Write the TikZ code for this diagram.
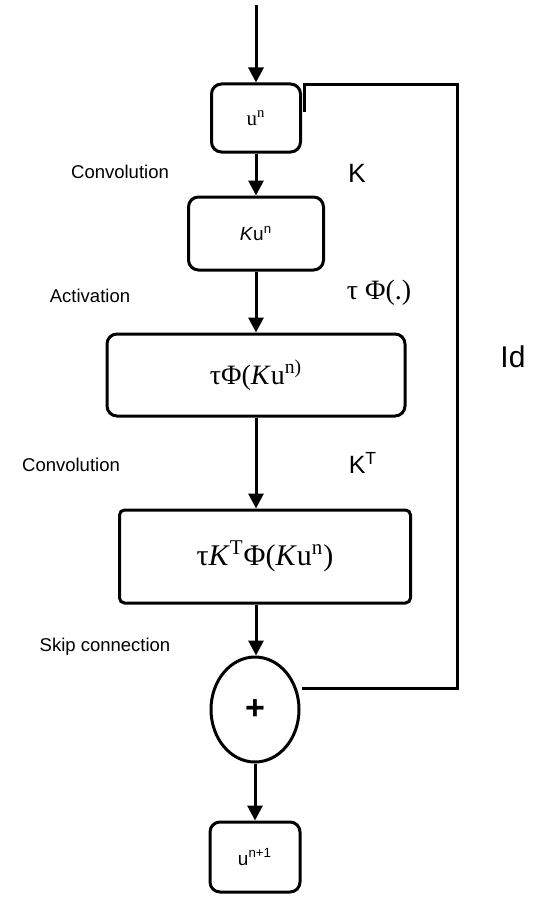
\documentclass[tikz,border=0pt]{standalone}
\usepackage{fontspec}
\setmainfont{Liberation Sans}
\newfontfamily\timesf{Liberation Serif}
\usetikzlibrary{positioning,
    arrows.meta,
    shapes.geometric}

\begin{document}
\begin{tikzpicture} [->,
    x = 0.5pt, y = -0.5pt,
    > = {Triangle[length=7.5pt, width=7.5pt]},
    line width = 1.5pt,
    block/.style = {draw, rounded corners = 5pt, inner sep = 0pt, fill = white,
        font = \fontsize{9.5}{11}\selectfont},
    lbl/.style = {anchor = base, font = \fontsize{9.25}{11}\selectfont},
    oplbl/.style = {anchor = base, font = \fontsize{13.25}{15}\selectfont}]
\useasboundingbox (0,0) rectangle (542,904);

\node[block, minimum width = 44.5pt, minimum height = 34pt,
    font = \timesf\fontsize{10.5}{12}\selectfont] (u0) at (256,118) {u\textsuperscript{n}};
\node[block, minimum width = 67.5pt, minimum height = 36.5pt, below = 21pt of u0] (ku) {\textit{K}u\textsuperscript{n}};
\node[block, minimum width = 149pt, minimum height = 41pt, below = 30.5pt of ku,
    font = \timesf\fontsize{14}{16}\selectfont] (act) {τΦ(\textit{K}u\textsuperscript{n)}};
\node[block, rounded corners = 2.5pt, minimum width = 145.5pt, minimum height = 46.5pt,
    below = 45.5pt of act, xshift = 4.5pt,
    font = \timesf\fontsize{15}{17}\selectfont] (kt) {τ\textit{K}\textsuperscript{T}Φ(\textit{K}u\textsuperscript{n})};
\node[draw, ellipse, inner sep = 0pt, minimum width = 44pt, minimum height = 52.5pt,
    below = 25.5pt of kt, xshift = -5pt,
    font = \bfseries\fontsize{17}{19}\selectfont] (sum) {+};
\node[block, minimum width = 45pt, minimum height = 35pt, below = 28.5pt of sum] (u1) {u\textsuperscript{n+1}};

\coordinate (in) at (256,5);
\coordinate (idtop) at (457,85);
\coordinate (idend) at (302,688);

% main path
\draw (in) -- (u0);
\draw (u0) -- (ku);
\draw (ku) -- (act);
\draw (act.south) -- (act.south |- kt.north);
\draw (kt.south -| ku.south) -- (ku.south |- sum.north);
\draw (sum) -- (u1);

% identity branch
\draw[-] ([xshift = 1pt, yshift = 3pt]u0.east) |- (idtop) |- (idend);

\node[lbl] (conv1) at (120,178) {Convolution};
\node[lbl] (activ) at (90,302) {Activation};
\node[lbl] (conv2) at (71,471) {Convolution};
\node[lbl] (skip) at (105,651) {Skip connection};

\node[oplbl] (kop) at (357,182) {K};
\node[oplbl, font = \timesf\fontsize{14}{16}\selectfont] (phiop) at (379,299) {τ Φ(.)};
\node[oplbl, font = \fontsize{15}{17}\selectfont] (idop) at (513,367) {Id};
\node[oplbl, font = \fontsize{12.5}{14}\selectfont] (ktop) at (363,473) {K\textsuperscript{T}};
\end{tikzpicture}
\end{document}
